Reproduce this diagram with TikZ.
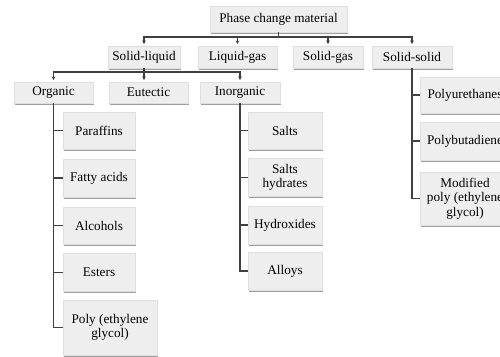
\documentclass[tikz,border=0pt]{standalone}
\usepackage{fontspec}
\setmainfont{Liberation Serif}
\usepackage{tikz}
\usetikzlibrary{shapes, arrows.meta, positioning, shadows}

\begin{document}
\begin{tikzpicture}[x=0.03cm, y=-0.03cm, font=\fontsize{11.3}{12.2}\selectfont]

% Define block styles
\tikzstyle{box} = [rectangle, draw=gray!25, fill=gray!13, inner sep=1pt, align=center, text=black, drop shadow={shadow xshift=1pt, shadow yshift=-1.6pt, fill=gray!75, opacity=1}]
\tikzstyle{line} = [draw=black!75, line width=0.9pt]
\tikzstyle{arrow} = [line, -{Stealth[length=3pt,width=3pt]}, shorten >=1.5pt]

\useasboundingbox (0,0) rectangle (500,356);

% Define nodes
\node (pcm) at (278.5,19) [box, minimum width=41.1mm, minimum height=7.8mm] {Phase change material};

\node (sl) at (144,57) [box, minimum width=21.6mm, minimum height=6.6mm] {Solid-liquid};
\node (lg) at (237.5,57) [box, minimum width=23.7mm, minimum height=6.6mm] {Liquid-gas};
\node (sg) at (328,57) [box, minimum width=21mm, minimum height=6.6mm] {Solid-gas};
\node (ss) at (412,57) [box, minimum width=24mm, minimum height=6.6mm] {Solid-solid};

\node (org) at (53.5,92.5) [box, minimum width=23.7mm, minimum height=6.3mm] {Organic};
\node (eut) at (148.5,92.5) [box, minimum width=23.7mm, minimum height=6.3mm] {Eutectic};
\node (inorg) at (240,92.5) [box, minimum width=24mm, minimum height=6.3mm] {Inorganic};

\node (par) at (99,130.5) [box, minimum width=21.6mm, minimum height=11.1mm] {Paraffins};
\node (fat) at (99,178) [box, minimum width=21.6mm, minimum height=11.4mm] {Fatty acids};
\node (alc) at (99,225.5) [box, minimum width=21.6mm, minimum height=11.1mm] {Alcohols};
\node (est) at (99,272.5) [box, minimum width=21.6mm, minimum height=11.4mm] {Esters};
\node (peg) at (110,327.5) [box, minimum width=28.2mm, minimum height=16.5mm] {Poly (ethylene\\glycol)};

\node (salt) at (285,130.5) [box, minimum width=22.2mm, minimum height=11.1mm] {Salts};
\node (hyd) at (285,177.5) [box, minimum width=22.2mm, minimum height=11.4mm] {Salts\\hydrates};
\node (hydr) at (285,225) [box, minimum width=22.2mm, minimum height=11.4mm] {Hydroxides};
\node (alloy) at (285,271) [box, minimum width=22.2mm, minimum height=11.4mm] {Alloys};

\node (pu) at (465,95) [box, minimum width=27mm, minimum height=10.8mm] {Polyurethanes};
\node (pb) at (465,141) [box, minimum width=27mm, minimum height=11.4mm] {Polybutadiene};
\node (mpeg) at (465,198.5) [box, minimum width=27mm, minimum height=15.9mm] {Modified\\poly (ethylene\\glycol)};

% Draw connectors
\coordinate (bar1) at (278.5,37);
\coordinate (bar2) at (144,72);
\draw [line] (pcm.south) -- (bar1);
\draw [arrow] (bar1) -| (sl.north);
\draw [arrow] (bar1) -| (lg.north);
\draw [arrow] (bar1) -| (sg.north);
\draw [arrow] (bar1) -| (ss.north);

\draw [line] (sl.south) -- (bar2);
\draw [arrow] (bar2) -| (org.north);
\draw [arrow] (bar2) -- (bar2 |- eut.north);
\draw [arrow] (bar2) -| (inorg.north);

\draw [line] (org.south) |- (peg.west);
\foreach \n in {par, fat, alc, est}
  \draw [line] (org.south |- \n.west) -- (\n.west);

\draw [line] (inorg.south) |- (alloy.west);
\foreach \n in {salt, hyd, hydr}
  \draw [line] (inorg.south |- \n.west) -- (\n.west);

\draw [line] (ss.south) |- (mpeg.west);
\foreach \n in {pu, pb}
  \draw [line] (ss.south |- \n.west) -- (\n.west);

\end{tikzpicture}
\end{document}
